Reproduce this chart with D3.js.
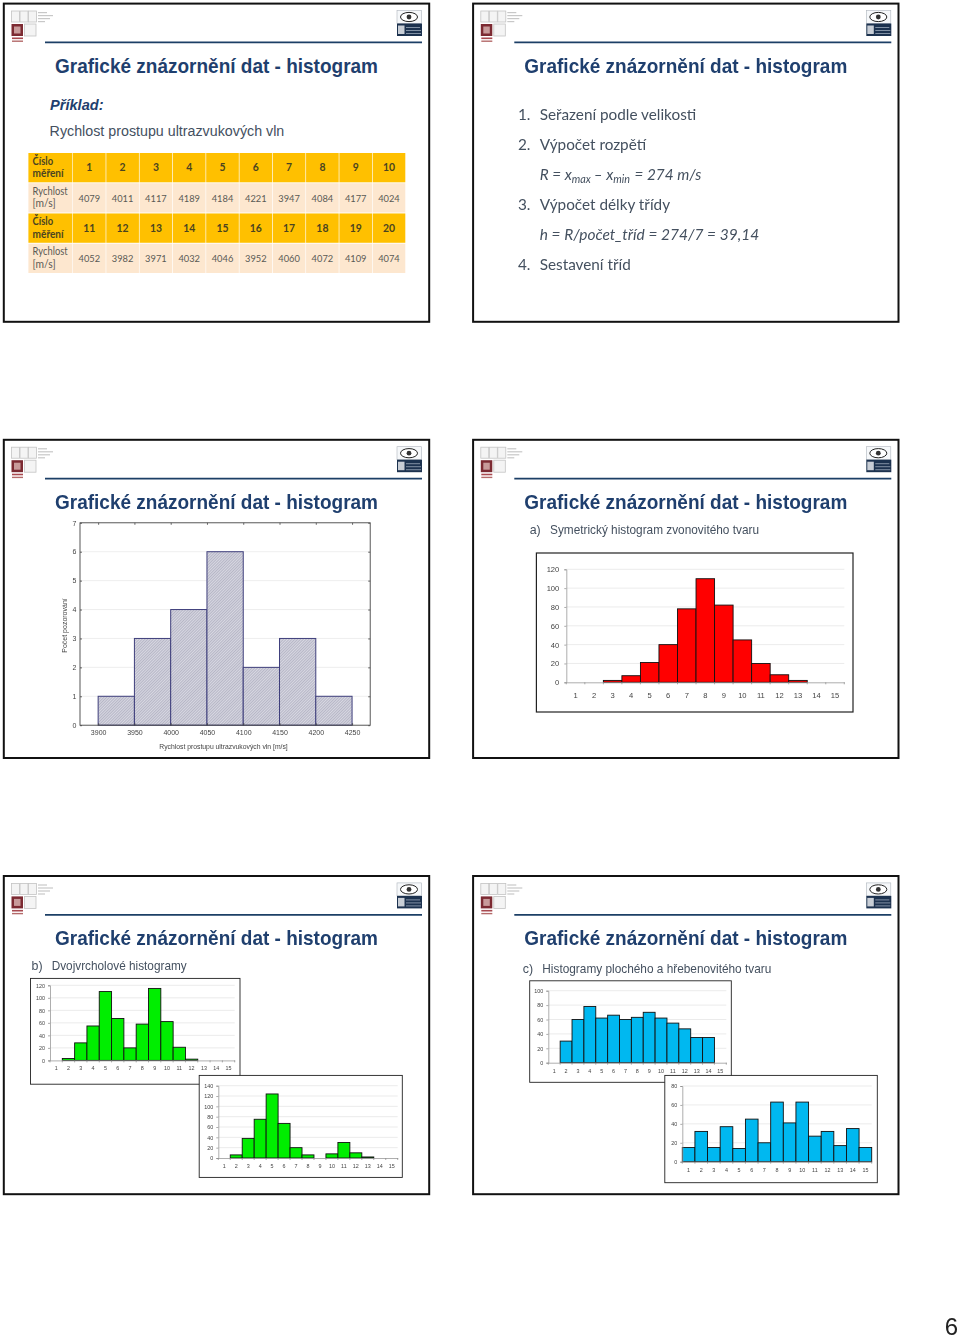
<!DOCTYPE html>
<html><head><meta charset="utf-8">
<script src="https://cdn.jsdelivr.net/npm/d3@7/dist/d3.min.js"></script>
<style>html,body{margin:0;padding:0;background:#fff}svg{display:block;filter:blur(0.3px)}text{font-family:"Liberation Sans",Arial,sans-serif}</style>
</head><body><svg id="page" width="960" height="1340"></svg>
<script>
const titleText = "Grafické znázornění dat - histogram";
const measureIds1 = ["1","2","3","4","5","6","7","8","9","10"];
const speeds1 = [4079,4011,4117,4189,4184,4221,3947,4084,4177,4024];
const measureIds2 = ["11","12","13","14","15","16","17","18","19","20"];
const speeds2 = [4052,3982,3971,4032,4046,3952,4060,4072,4109,4074];
const binEdges = [3900,3950,4000,4050,4100,4150,4200,4250];
const binCounts = [1,3,4,6,2,3,1];
const categories = ["1","2","3","4","5","6","7","8","9","10","11","12","13","14","15"];
const redValues = [0,0,2,7,21,40,78,110,82,45,20,8,2,0,0];
const greenAValues = [0,3,28,55,110,67,20,58,115,62,21,2,0,0,0];
const greenBValues = [0,6,38,75,124,67,20,6,0,8,30,10,2,0,0];
const blueAValues = [0,30,60,78,62,66,60,63,70,62,55,47,35,35,0];
const blueBValues = [15,32,15,37,14,45,20,63,41,63,27,32,17,35,15];

const svg = d3.select("#page");
const defs = svg.append("defs");
const hatch = defs.append("pattern").attr("id","hatch").attr("width",2).attr("height",2)
  .attr("patternUnits","userSpaceOnUse").attr("patternTransform","rotate(45)");
hatch.append("rect").attr("width",2).attr("height",2).attr("fill","#d8d8e2");
hatch.append("rect").attr("width",1).attr("height",2).attr("fill","#b6b6c6");
defs.append("filter").attr("id","soft").append("feGaussianBlur").attr("stdDeviation",0.45);

const TITLE = "#1f3f6e", BODY = "#44505f";

function fit(sel,w){ return sel.attr("textLength",w).attr("lengthAdjust","spacingAndGlyphs"); }

function slide(col,row){
  const dx = col*469.3, dy = row*436.2;
  const g = svg.append("g").attr("transform",`translate(${dx},${dy})`);
  g.append("rect").attr("x",3.8).attr("y",3.6).attr("width",425.4).attr("height",318.2)
    .attr("fill","#fff").attr("stroke","#111").attr("stroke-width",2);
  const lg = g.append("g").attr("filter","url(#soft)");
  [[11.5,11,8],[20,11,8],[28.5,11,8],[24.5,24,11.5]].forEach(([x,y,w])=>
    lg.append("rect").attr("x",x).attr("y",y).attr("width",w).attr("height",w===8?11:12)
      .attr("fill","#f4f4f4").attr("stroke","#c4c4c4").attr("stroke-width",.8));
  lg.append("rect").attr("x",11.5).attr("y",24).attr("width",11.5).attr("height",12).attr("fill","#7c2a33");
  lg.append("rect").attr("x",14).attr("y",26.5).attr("width",6.5).attr("height",7).attr("fill","#c89a9a");
  lg.append("rect").attr("x",12).attr("y",37.5).attr("width",11).attr("height",1.6).attr("fill","#a8484f");
  lg.append("rect").attr("x",12).attr("y",40.5).attr("width",11).attr("height",1.4).attr("fill","#b46a6a");
  [[38,12,9],[38,15,15],[38,18,12],[38,21,7]].forEach(([x,y,w])=>
    lg.append("rect").attr("x",x).attr("y",y).attr("width",w).attr("height",1.2).attr("fill","#c8c8c8"));
  lg.append("rect").attr("x",397).attr("y",10.5).attr("width",24.5).attr("height",13).attr("fill","#f6f8fa").attr("stroke","#aeb4bc").attr("stroke-width",.6);
  lg.append("ellipse").attr("cx",409).attr("cy",17).attr("rx",8.5).attr("ry",4.6).attr("fill","#fff").attr("stroke","#222").attr("stroke-width",1);
  lg.append("circle").attr("cx",409).attr("cy",17).attr("r",2.4).attr("fill","#333");
  lg.append("rect").attr("x",397).attr("y",23.5).attr("width",25).attr("height",12.5).attr("fill","#1f3350");
  lg.append("rect").attr("x",398).attr("y",25.5).attr("width",6.5).attr("height",8.5).attr("fill","#c8ced6");
  [[27,14],[30,15],[33,15]].forEach(([y,w])=>
    lg.append("rect").attr("x",406).attr("y",y).attr("width",w).attr("height",1).attr("fill","#8090a4"));
  g.append("line").attr("x1",45).attr("x2",422).attr("y1",42.4).attr("y2",42.4).attr("stroke","#1c3f66").attr("stroke-width",1.8);
  fit(g.append("text").attr("x",55).attr("y",72.6).attr("font-size",20.4).attr("font-weight",700).attr("fill",TITLE).text(titleText),323);
  return g;
}

/* ---------- Slide 1: table ---------- */
{
  const g = slide(0,0);
  g.append("text").attr("x",50).attr("y",110).attr("font-size",14.6).attr("font-weight",700).attr("font-style","italic").attr("fill",TITLE).text("Příklad:");
  g.append("text").attr("x",49.6).attr("y",136).attr("font-size",14.28).attr("fill",BODY).text("Rychlost prostupu ultrazvukových vln");
  const rows = [
    {head:["Číslo","měření"],cells:measureIds1,hdr:true},
    {head:["Rychlost","[m/s]"],cells:speeds1,hdr:false},
    {head:["Číslo","měření"],cells:measureIds2,hdr:true},
    {head:["Rychlost","[m/s]"],cells:speeds2,hdr:false}];
  const y = d3.scaleBand().domain(d3.range(4)).range([153,273]).paddingInner(0.03).paddingOuter(0);
  const x = d3.scaleBand().domain(d3.range(10)).range([73,405.3]).paddingInner(0.02).paddingOuter(0);
  rows.forEach((r,i)=>{
    const fill = r.hdr?"#ffc000":"#fde7cf", col = r.hdr?"#4a4420":"#5a5a55";
    const rg = g.append("g");
    rg.append("rect").attr("x",28.4).attr("y",y(i)).attr("width",44).attr("height",y.bandwidth()).attr("fill",fill);
    r.head.forEach((t,j)=>{
      const tx = rg.append("text").attr("x",32.6).attr("y",y(i)+(r.hdr?11.8:11.4)+j*12.6)
        .style("font-family","Lato").attr("font-size",10.6).attr("font-weight",r.hdr?700:400).attr("fill",col).text(t);
      fit(tx, r.hdr?(j?31:20.5):(j?23:35));
    });
    rg.selectAll("rect.c").data(r.cells).join("rect").attr("class","c")
      .attr("x",(d,k)=>x(k)).attr("y",y(i)).attr("width",x.bandwidth()).attr("height",y.bandwidth()).attr("fill",fill);
    const cells = rg.selectAll("text.c").data(r.cells).join("text").attr("class","c")
      .attr("x",(d,k)=>x(k)+x.bandwidth()/2).attr("y",y(i)+y.bandwidth()/2+3.7)
      .attr("text-anchor","middle").style("font-family","Lato").attr("font-size",10.4).attr("font-weight",r.hdr?700:400).attr("fill",col).text(d=>d);
    if(!r.hdr) fit(cells,21.6);
  });
}

/* ---------- Slide 2: steps ---------- */
{
  const g = slide(1,0);
  const line = (yy)=>g.append("text").attr("y",yy).style("font-family","Lato").attr("font-size",15.3).attr("fill",BODY);
  [["1.","Seřazení podle velikosti",119.5],["2.","Výpočet rozpětí",149.5],["3.","Výpočet délky třídy",209.5],["4.","Sestavení tříd",269.5]]
    .forEach(([n,t,yy])=>{ line(yy).attr("x",48.7).text(n); line(yy).attr("x",70.4).text(t); });
  const f1 = line(179.5).attr("x",70.4).attr("font-style","italic");
  f1.append("tspan").text("R = x");
  f1.append("tspan").attr("dy",3).attr("font-size",10.8).text("max");
  f1.append("tspan").attr("dy",-3).attr("dx",3).text("– x");
  f1.append("tspan").attr("dy",3).attr("font-size",10.8).text("min");
  f1.append("tspan").attr("dy",-3).attr("dx",4.5).text("= 274 m/s");
  line(239.5).attr("x",70.4).attr("font-style","italic").attr("font-size",15.5).text("h = R/počet_tříd = 274/7 = 39,14");
}

/* ---------- Slide 3: STATISTICA histogram ---------- */
{
  const g = slide(0,1);
  const inner = g.append("g").attr("transform","translate(0,-436.2)");
  const x = d3.scaleLinear().domain([3875,4275]).range([80,370.2]);
  const y = d3.scaleLinear().domain([0,7]).range([725.2,522.8]);
  const yTicks = d3.range(0,8);
  inner.append("g").selectAll("line").data(yTicks.slice(1,7)).join("line")
    .attr("x1",80).attr("x2",370).attr("y1",d=>y(d)).attr("y2",d=>y(d)).attr("stroke","#e6e6e6").attr("stroke-width",.7);
  const bins = binCounts.map((c,i)=>({c,x0:binEdges[i],x1:binEdges[i+1]}));
  inner.append("g").selectAll("rect").data(bins).join("rect")
    .attr("x",d=>x(d.x0)).attr("y",d=>y(d.c)).attr("width",d=>x(d.x1)-x(d.x0)).attr("height",d=>y(0)-y(d.c))
    .attr("fill","url(#hatch)").attr("stroke","#3f3f7c").attr("stroke-width",1);
  inner.append("rect").attr("x",80).attr("y",522.8).attr("width",290.2).attr("height",202.4).attr("fill","none").attr("stroke","#444").attr("stroke-width",.9);
  const style = (s)=>{ s.select(".domain").remove(); s.selectAll("line").attr("stroke","#444").attr("stroke-width",.8);
    s.selectAll("text").attr("fill","#444").style("font-family","'Liberation Sans'").attr("font-size",7); };
  inner.append("g").attr("transform","translate(80,0)").call(d3.axisLeft(y).tickValues(yTicks).tickFormat(d3.format("d")).tickSize(-2).tickPadding(3.5)).call(style);
  inner.append("g").attr("transform","translate(370.2,0)").call(d3.axisRight(y).tickValues(yTicks).tickFormat("").tickSize(-2)).call(style);
  inner.append("g").attr("transform","translate(0,725.2)").call(d3.axisBottom(x).tickValues(binEdges).tickFormat(d3.format("d")).tickSize(-2).tickPadding(5)).call(style);
  inner.append("g").attr("transform","translate(0,522.8)").call(d3.axisTop(x).tickValues(binEdges).tickFormat("").tickSize(-2)).call(style);
  inner.append("text").attr("x",223.5).attr("y",749).attr("text-anchor","middle").attr("font-size",6.8).attr("fill","#444").text("Rychlost prostupu ultrazvukových vln [m/s]");
  inner.append("text").attr("transform","translate(66.5,625.5) rotate(-90)").attr("text-anchor","middle").attr("font-size",7).attr("fill","#444").text("Počet pozorování");
}

/* ---------- generic Excel-style column panel ---------- */
function panel(box,plot,values,yMax,yStep,color,fs,boxW){
  const g = svg.append("g");
  g.append("rect").attr("x",box[0]).attr("y",box[1]).attr("width",box[2]-box[0]).attr("height",box[3]-box[1])
    .attr("fill","#fff").attr("stroke","#222").attr("stroke-width",boxW||1);
  const x = d3.scaleBand().domain(categories).range([plot[0],plot[2]]);
  const y = d3.scaleLinear().domain([0,yMax]).range([plot[3],plot[1]]);
  const ticks = d3.range(0,yMax+1,yStep);
  g.append("g").selectAll("line").data(ticks.slice(1)).join("line")
    .attr("x1",plot[0]).attr("x2",plot[2]).attr("y1",d=>y(d)).attr("y2",d=>y(d)).attr("stroke","#e2e2e2").attr("stroke-width",.7);
  const data = categories.map((c,i)=>({c,v:values[i]})).filter(d=>d.v>0);
  g.append("g").selectAll("rect").data(data).join("rect")
    .attr("x",d=>x(d.c)).attr("y",d=>y(d.v)).attr("width",x.bandwidth()).attr("height",d=>y(0)-y(d.v))
    .attr("fill",color).attr("stroke","#111").attr("stroke-width",.9);
  const ya = g.append("g").attr("transform",`translate(${plot[0]},0)`)
    .call(d3.axisLeft(y).tickValues(ticks).tickFormat(d3.format("d")).tickSize(2).tickPadding(fs>6.5?5:3));
  const xa = g.append("g").attr("transform",`translate(0,${plot[3]})`)
    .call(d3.axisBottom(x).tickSize(0).tickPadding(fs>6.5?10:6));
  g.append("g").attr("transform",`translate(0,${plot[3]})`).selectAll("line").data(d3.range(16)).join("line")
    .attr("x1",i=>plot[0]+i*x.step()).attr("x2",i=>plot[0]+i*x.step()).attr("y1",0).attr("y2",2).attr("stroke","#888").attr("stroke-width",.7);
  [ya,xa].forEach(a=>{ a.select(".domain").attr("stroke","#999").attr("stroke-width",.8);
    a.selectAll("line").attr("stroke","#888").attr("stroke-width",.7);
    a.selectAll("text").attr("fill","#444").style("font-family","'Liberation Sans'").attr("font-size",fs); });
}

function subhead(g,mark,mx,tx,yy,text,w){
  g.append("text").attr("x",mx).attr("y",yy).attr("font-size",12.4).attr("fill",BODY).text(mark);
  fit(g.append("text").attr("x",tx).attr("y",yy).attr("font-size",12.4).attr("fill",BODY).text(text),w);
}

/* ---------- Slide 4: bell ---------- */
{
  const g = slide(1,1);
  subhead(g,"a)",60.4,80.7,98.2,"Symetrický histogram zvonovitého tvaru",209);
  panel([536.4,553,853,712],[566.3,569.3,844.3,682.3],redValues,120,20,"#ff0000",7.6,1.2);
}
/* ---------- Slide 5: bimodal ---------- */
{
  const g = slide(0,2);
  subhead(g,"b)",31.5,51.7,97.6,"Dvojvrcholové histogramy",135);
  panel([30.5,978.4,240,1084.2],[50,985.3,234.7,1060.4],greenAValues,120,20,"#00ee00",5.4,.9);
  panel([199.2,1075.4,402.3,1177.4],[218.3,1085.7,397.7,1158],greenBValues,140,20,"#00ee00",5.4,.9);
}
/* ---------- Slide 6: flat & comb ---------- */
{
  const g = slide(1,2);
  subhead(g,"c)",53.4,73,100.8,"Histogramy plochého a hřebenovitého tvaru",229);
  panel([529.7,980.8,731.3,1082.3],[548.3,990.7,726.3,1062.7],blueAValues,100,20,"#00b8f0",5.4,.9);
  panel([664.8,1075.4,877.3,1182.7],[682.3,1086,871.7,1161.7],blueBValues,80,20,"#00b8f0",5.4,.9);
}
svg.append("text").attr("x",951.5).attr("y",1334.6).attr("text-anchor","middle").attr("font-size",24).attr("fill","#222").text("6");
</script></body></html>
